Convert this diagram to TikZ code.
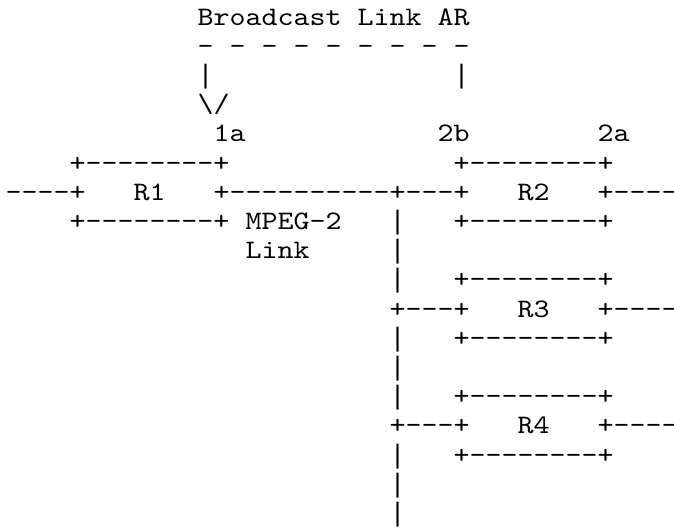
\documentclass[tikz,border=0pt]{standalone}
\usepackage{fontspec}
\setmonofont{lmmono10-regular.otf}[FakeStretch=1.1427]
\newfontfamily\barfont{Liberation Mono}
\tikzset{
  asc/.style={font=\ttfamily\fontsize{26.67}{29}\selectfont, text=black, inner sep=0pt, outer sep=0pt, anchor=base west},
  bar/.style={asc, font=\barfont\fontsize{26.67}{29}\selectfont}
}
\newcommand\asctext[4]{\node[asc] (#1) at ({5.5pt+#2*16pt},{-25pt-#3*29.2pt}) {#4};}
\newcommand\ascbar[3]{\node[bar] (#1) at ({5.5pt+#2*16pt},{-25pt-#3*29.2pt}) {|};}
\begin{document}
\begin{tikzpicture}
\fill[white] (0pt,0pt) rectangle (674pt,-530pt);
\useasboundingbox (0pt,0pt) rectangle (674pt,-530pt);
\asctext{title}{12}{0}{Broadcast Link AR}
\asctext{dash}{12}{1}{- - - - - - - - -}
\ascbar{pl}{12}{2}
\ascbar{pr}{28}{2}
\asctext{arr}{12}{3}{\textbackslash/}
\asctext{la}{13}{4}{1a}
\asctext{lb}{27}{4}{2b}
\asctext{lc}{37}{4}{2a}
\asctext{rAt}{4}{5}{+--------+}
\asctext{rBt}{28}{5}{+--------+}
\asctext{inl}{0}{6}{----+}
\asctext{rAn}{8}{6}{R1}
\asctext{mid}{13}{6}{+----------+---+}
\asctext{rBn}{32}{6}{R2}
\asctext{rBo}{37}{6}{+----}
\asctext{rAb}{4}{7}{+--------+}
\asctext{mpeg}{15}{7}{MPEG-2}
\ascbar{v7}{24}{7}
\asctext{rBb}{28}{7}{+--------+}
\asctext{link}{15}{8}{Link}
\ascbar{v8}{24}{8}
\ascbar{v9}{24}{9}
\asctext{rCt}{28}{9}{+--------+}
\asctext{rCi}{24}{10}{+---+}
\asctext{rCn}{32}{10}{R3}
\asctext{rCo}{37}{10}{+----}
\ascbar{v11}{24}{11}
\asctext{rCb}{28}{11}{+--------+}
\ascbar{v12}{24}{12}
\ascbar{v13}{24}{13}
\asctext{rDt}{28}{13}{+--------+}
\asctext{rDi}{24}{14}{+---+}
\asctext{rDn}{32}{14}{R4}
\asctext{rDo}{37}{14}{+----}
\ascbar{v15}{24}{15}
\asctext{rDb}{28}{15}{+--------+}
\ascbar{v16}{24}{16}
\ascbar{v17}{24}{17}
\end{tikzpicture}
\end{document}
